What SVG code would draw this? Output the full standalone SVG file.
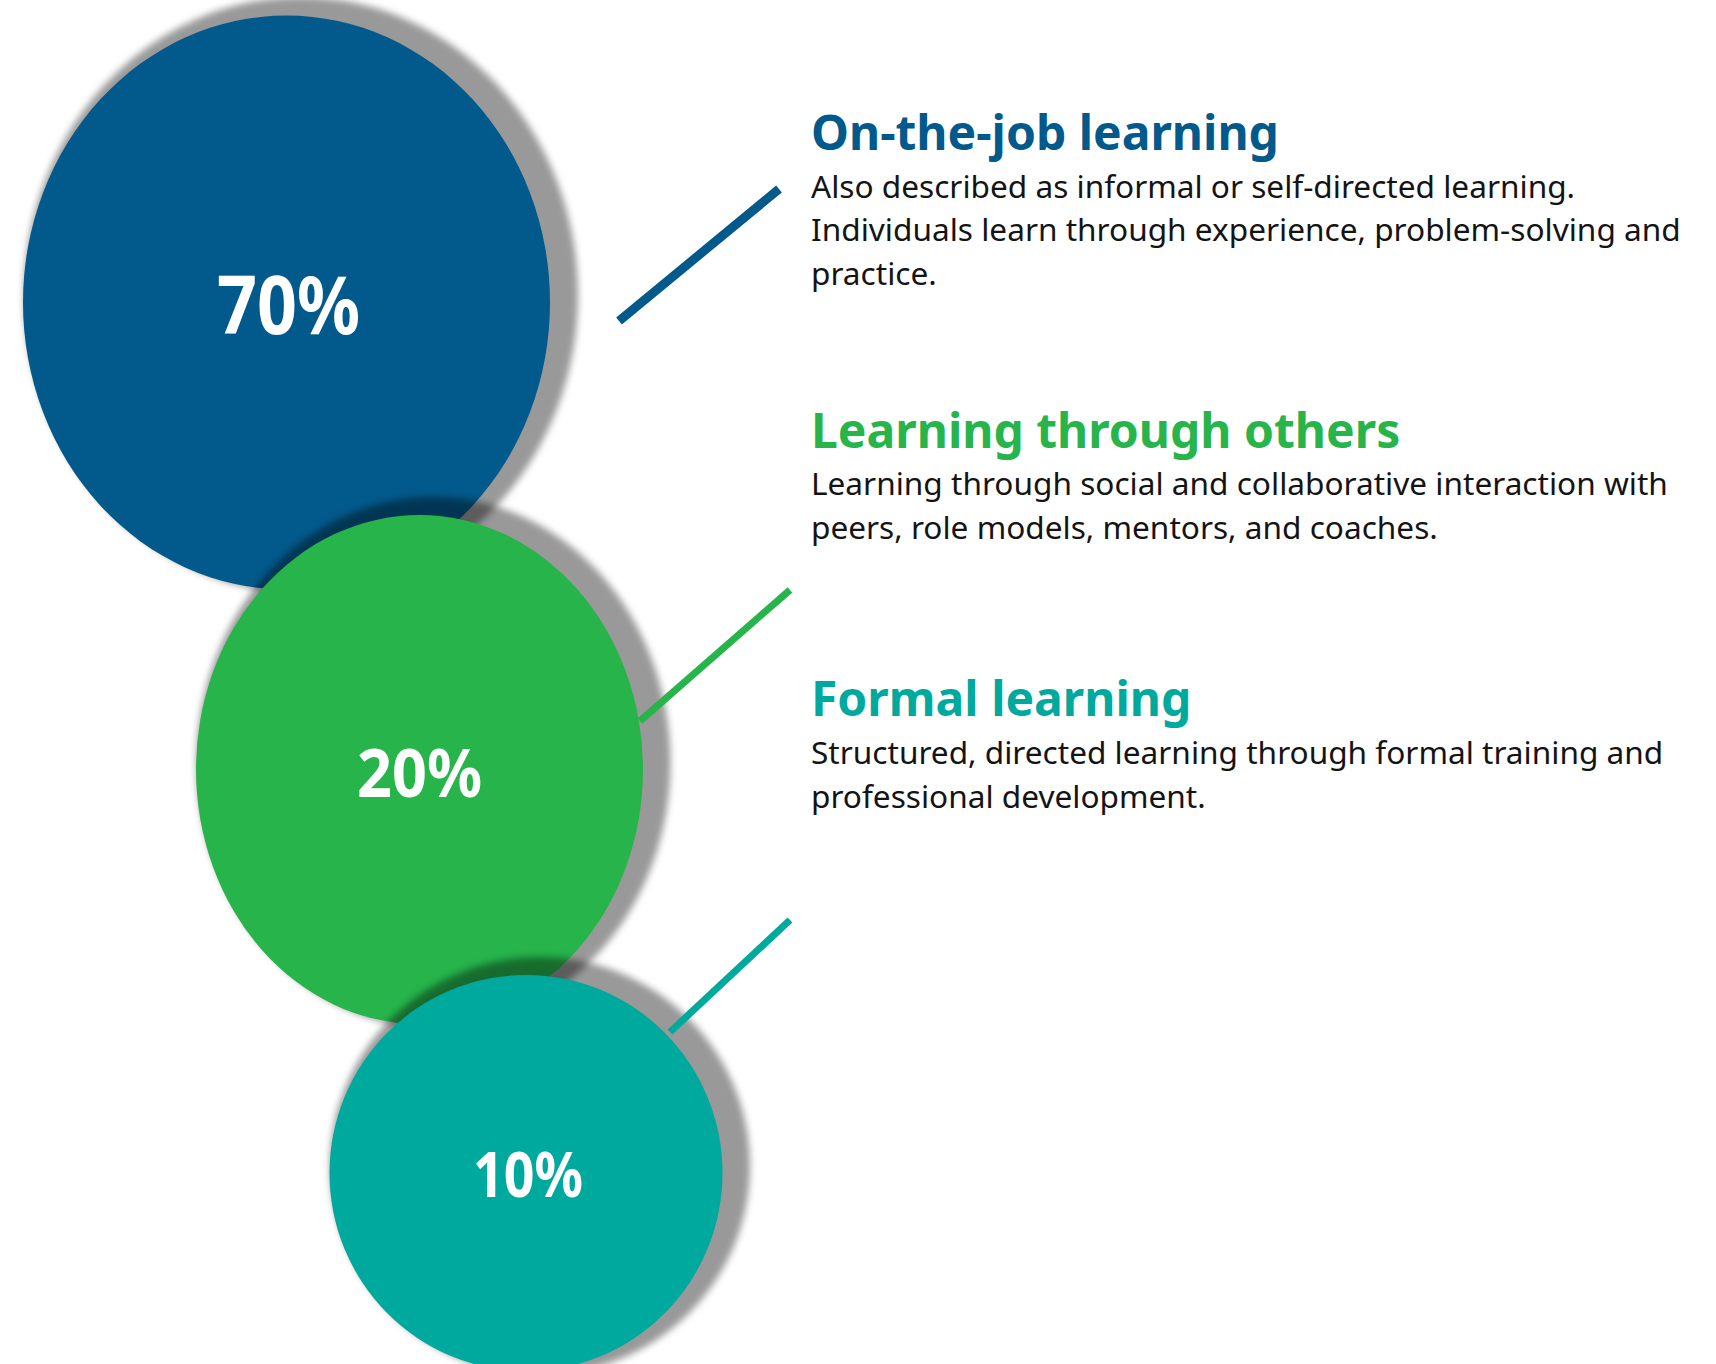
<svg xmlns="http://www.w3.org/2000/svg" width="1716" height="1364" viewBox="0 0 1716 1364">
  <defs>
    <filter id="soft" x="-20%" y="-20%" width="140%" height="140%">
      <feGaussianBlur stdDeviation="3.5"/>
    </filter>
  </defs>
  <style>
    .shadow { fill: #000; fill-opacity: 0.4; filter: url(#soft); }
    .pct { font-family: "Noto Sans", "Open Sans", sans-serif; font-weight: 700; fill: #fff; text-anchor: middle; }
    .title { font-family: "Noto Sans", "Open Sans", sans-serif; font-weight: 700; font-size: 48px; }
    .body { font-family: "Noto Sans", "Open Sans", sans-serif; font-size: 31.6px; fill: #141414; }
    .blue { fill: #02598b; }
    .green { fill: #26b44b; }
    .teal { fill: #00a99d; }
    .link { fill: none; stroke-linecap: butt; }
  </style>
  <rect width="1716" height="1364" fill="#fff"/>

  <!-- 70% circle -->
  <g id="node-70">
    <ellipse class="shadow" cx="301" cy="295" rx="277" ry="298"/>
    <ellipse class="blue" cx="286.5" cy="302.5" rx="263.5" ry="287"/>
    <text class="pct" x="288.5" y="334" font-size="80" textLength="143" lengthAdjust="spacingAndGlyphs">70%</text>
  </g>

  <!-- 20% circle -->
  <g id="node-20">
    <ellipse class="shadow" cx="433.5" cy="762.5" rx="237" ry="265.5"/>
    <ellipse class="green" cx="419.5" cy="769.5" rx="223.5" ry="254.5"/>
    <text class="pct" x="419.5" y="797" font-size="67" textLength="125" lengthAdjust="spacingAndGlyphs">20%</text>
  </g>

  <!-- 10% circle -->
  <g id="node-10">
    <ellipse class="shadow" cx="540" cy="1166" rx="210" ry="209"/>
    <ellipse class="teal" cx="526" cy="1173" rx="196.5" ry="198"/>
    <text class="pct" x="528" y="1197" font-size="63" textLength="110" lengthAdjust="spacingAndGlyphs">10%</text>
  </g>

  <!-- leader lines -->
  <g id="connectors">
    <line class="link" x1="619" y1="321" x2="779" y2="189" stroke="#02598b" stroke-width="9"/>
    <line class="link" x1="640" y1="721" x2="790" y2="590" stroke="#26b44b" stroke-width="7"/>
    <line class="link" x1="670" y1="1032" x2="790" y2="920" stroke="#00a99d" stroke-width="7"/>
  </g>

  <!-- descriptions -->
  <g id="text-on-the-job">
    <text class="title blue" x="811" y="150">On-the-job learning</text>
    <text class="body" x="811" y="198">Also described as informal or self-directed learning.</text>
    <text class="body" x="811" y="241">Individuals learn through experience, problem-solving and</text>
    <text class="body" x="811" y="285">practice.</text>
  </g>
  <g id="text-through-others">
    <text class="title green" x="811" y="448">Learning through others</text>
    <text class="body" x="811" y="495">Learning through social and collaborative interaction with</text>
    <text class="body" x="811" y="539">peers, role models, mentors, and coaches.</text>
  </g>
  <g id="text-formal">
    <text class="title teal" x="811" y="716">Formal learning</text>
    <text class="body" x="811" y="764">Structured, directed learning through formal training and</text>
    <text class="body" x="811" y="808">professional development.</text>
  </g>
</svg>
